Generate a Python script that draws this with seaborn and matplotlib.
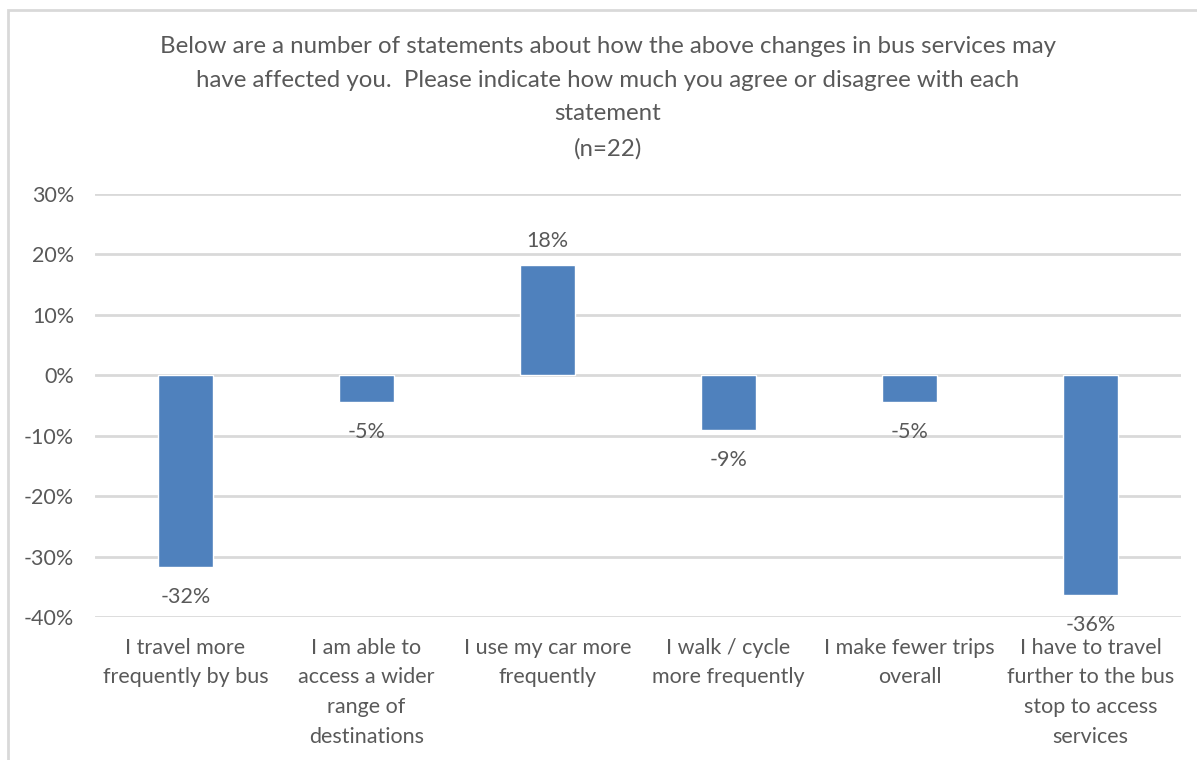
import matplotlib
matplotlib.use("Agg")
import matplotlib.pyplot as plt
import seaborn as sns
import pandas as pd
from matplotlib.patches import Rectangle

categories = [
    "I travel more\nfrequently by bus",
    "I am able to\naccess a wider\nrange of\ndestinations",
    "I use my car more\nfrequently",
    "I walk / cycle\nmore frequently",
    "I make fewer trips\noverall",
    "I have to travel\nfurther to the bus\nstop to access\nservices",
]
values = [-0.318, -0.045, 0.182, -0.091, -0.045, -0.364]
value_labels = ["-32%", "-5%", "18%", "-9%", "-5%", "-36%"]
yticks = [-0.4, -0.3, -0.2, -0.1, 0.0, 0.1, 0.2, 0.3]
ytick_labels = ["-40%", "-30%", "-20%", "-10%", "0%", "10%", "20%", "30%"]
title = ("Below are a number of statements about how the above changes in bus services may\n"
         "have affected you.  Please indicate how much you agree or disagree with each\n"
         "statement\n(n=22)")

sns.set_style("white")
plt.rcParams['font.family'] = ['Lato', 'DejaVu Sans']
text_color = "#595959"
grid_color = "#D9D9D9"
bar_color = "#4F81BD"
fs = 15.5

df = pd.DataFrame({"cat": categories, "val": values})

fig = plt.figure(figsize=(11.97, 7.6), dpi=100)
ax = fig.add_axes([95/1197, 1-617/760, (1181-95)/1197, (617-194)/760])

sns.barplot(data=df, x="cat", y="val", color=bar_color, width=0.30,
            saturation=1, ax=ax, zorder=3)

ax.set_ylim(-0.4, 0.3)
ax.set_yticks(yticks)
ax.set_yticklabels(ytick_labels, fontsize=fs, color=text_color)
ax.yaxis.grid(True, color=grid_color, linewidth=2, zorder=0)
ax.xaxis.grid(False)
ax.set_axisbelow(True)
for s in ax.spines.values():
    s.set_visible(False)
ax.tick_params(axis='both', length=0)
ax.tick_params(axis='y', pad=15)
ax.tick_params(axis='x', pad=15)
ax.set_xticks(range(len(categories)))
ax.set_xticklabels(categories, fontsize=fs, color=text_color, va="top",
                   linespacing=1.6)
ax.set_xlabel("")
ax.set_ylabel("")

pos_labels = [l if v >= 0 else "" for l, v in zip(value_labels, values)]
neg_labels = [l if v < 0 else "" for l, v in zip(value_labels, values)]
ax.bar_label(ax.containers[0], labels=pos_labels, padding=10,
             fontsize=fs, color=text_color)
ax.bar_label(ax.containers[0], labels=neg_labels, padding=14,
             fontsize=fs, color=text_color)

fig.text(608/1197, 1-36/760, title, ha="center", va="top", fontsize=17.3,
         color=text_color, linespacing=1.75)

# chart frame (top and left edges visible)
fig.patches.append(Rectangle((8/1197, -0.1), 1.2, 1-10/760 + 0.1,
                             transform=fig.transFigure, fill=False,
                             edgecolor=grid_color, linewidth=2))

fig.savefig("out.png", dpi=100)
